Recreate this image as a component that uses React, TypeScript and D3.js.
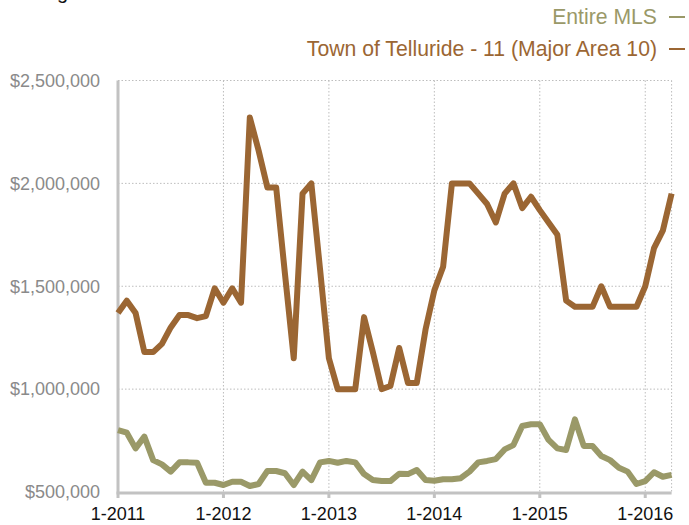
import React from "react";
import * as d3 from "d3";

const months: number[] = Array.from({ length: 64 }, (_, i) => i);

const tellurideValues: number[] = [
  1370000, 1430000, 1370000, 1180000, 1180000, 1220000, 1300000, 1360000, 1360000, 1345000,
  1355000, 1490000, 1420000, 1490000, 1420000, 2320000, 2160000, 1980000, 1980000, 1560000,
  1150000, 1950000, 2000000, 1580000, 1150000, 1000000, 1000000, 1000000, 1350000, 1180000,
  1000000, 1015000, 1200000, 1030000, 1030000, 1290000, 1480000, 1595000, 2000000, 2000000,
  2000000, 1950000, 1900000, 1810000, 1950000, 2000000, 1880000, 1935000, 1870000, 1810000,
  1750000, 1430000, 1400000, 1400000, 1400000, 1500000, 1400000, 1400000, 1400000, 1400000,
  1500000, 1685000, 1770000, 1950000,
];

const mlsValues: number[] = [
  801000, 788000, 712000, 769000, 655000, 634000, 599000, 644000, 644000, 642000,
  545000, 545000, 534000, 550000, 550000, 529000, 539000, 602000, 602000, 591000,
  534000, 599000, 558000, 644000, 651000, 642000, 651000, 644000, 587000, 558000,
  553000, 553000, 589000, 587000, 607000, 558000, 555000, 562000, 562000, 567000,
  599000, 644000, 651000, 660000, 707000, 728000, 821000, 829000, 829000, 753000,
  712000, 704000, 853000, 724000, 724000, 675000, 655000, 618000, 599000, 539000,
  553000, 596000, 574000, 583000,
];

const yTicks: number[] = [500000, 1000000, 1500000, 2000000, 2500000];
const xTickMonths: number[] = [0, 12, 24, 36, 48, 60];
const xTickLabels: string[] = ["1-2011", "1-2012", "1-2013", "1-2014", "1-2015", "1-2016"];

const seriesNames: string[] = ["Entire MLS", "Town of Telluride - 11 (Major Area 10)"];
const seriesColors: string[] = ["#9a9968", "#9b6633"];

const W = 689;
const H = 525;
const left = 118;
const right = 671.6;
const top = 80.5;
const bottom = 492;

export default function App() {
  const x = d3.scaleLinear().domain([0, 63]).range([left, right]);
  const y = d3.scaleLinear().domain([500000, 2500000]).range([bottom, top]);
  const line = d3
    .line<number>()
    .x((_, i) => x(months[i]))
    .y((d) => y(d));
  const fmt = (v: number) => "$" + d3.format(",")(v);
  const font = "'Liberation Sans', Arial, Helvetica, sans-serif";
  const grid = "#bdbdbd";
  const axis = "#c2c2c2";

  return (
    <svg
      width={W}
      height={H}
      style={{ position: "absolute", left: 0, top: 0, background: "#fff" }}
      fontFamily={font}
    >
      <text x={5} y={-1} fontSize={20} fill="#111">
        Average Sales Price
      </text>
      {/* gridlines */}
      {yTicks
        .filter((v) => v > 500000)
        .map((v) => (
          <line
            key={"gy" + v}
            x1={left}
            x2={right}
            y1={y(v)}
            y2={y(v)}
            stroke={grid}
            strokeWidth={1}
            strokeDasharray="1.5,2"
          />
        ))}
      {xTickMonths
        .filter((m) => m > 0)
        .map((m) => (
          <line
            key={"gx" + m}
            x1={x(m)}
            x2={x(m)}
            y1={top}
            y2={bottom}
            stroke={grid}
            strokeWidth={1}
            strokeDasharray="1.5,2"
          />
        ))}
      <line
        x1={right}
        x2={right}
        y1={top}
        y2={bottom}
        stroke={grid}
        strokeWidth={1}
        strokeDasharray="1.5,2"
      />
      {/* axes */}
      <line x1={left} x2={left} y1={top} y2={bottom + 2} stroke={axis} strokeWidth={3} />
      <line x1={left - 1.5} x2={right} y1={bottom + 1} y2={bottom + 1} stroke={axis} strokeWidth={3} />
      {xTickMonths.map((m) => (
        <line
          key={"tk" + m}
          x1={x(m)}
          x2={x(m)}
          y1={bottom + 2}
          y2={bottom + 6}
          stroke={axis}
          strokeWidth={3}
        />
      ))}
      {/* y labels */}
      {yTicks.map((v) => (
        <text
          key={"yl" + v}
          x={100}
          y={y(v)}
          dy="0.35em"
          textAnchor="end"
          fontSize={18}
          fill="#8a8a8a"
        >
          {fmt(v)}
        </text>
      ))}
      {/* x labels */}
      {xTickMonths.map((m, i) => (
        <text
          key={"xl" + m}
          x={x(m)}
          y={520}
          textAnchor="middle"
          fontSize={18}
          fill="#111"
        >
          {xTickLabels[i]}
        </text>
      ))}
      {/* lines */}
      <path
        d={line(mlsValues) || ""}
        fill="none"
        stroke={seriesColors[0]}
        strokeWidth={6}
        strokeLinejoin="round"
      />
      <path
        d={line(tellurideValues) || ""}
        fill="none"
        stroke={seriesColors[1]}
        strokeWidth={6}
        strokeLinejoin="round"
      />
      {/* legend */}
      {seriesNames.map((name, i) => (
        <g key={name}>
          <text
            x={657}
            y={24 + i * 32}
            textAnchor="end"
            fontSize={21.2}
            fill={seriesColors[i]}
          >
            {name}
          </text>
          <line
            x1={669}
            x2={685}
            y1={17 + i * 32}
            y2={17 + i * 32}
            stroke={seriesColors[i]}
            strokeWidth={2}
          />
        </g>
      ))}
    </svg>
  );
}
